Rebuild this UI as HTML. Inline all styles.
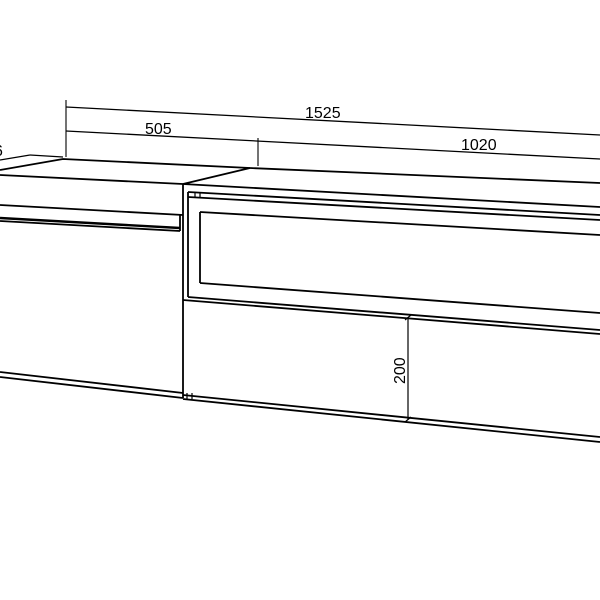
<!DOCTYPE html>
<html><head><style>body{margin:0;background:#fff}svg{display:block}</style></head>
<body>
<svg width="600" height="600" viewBox="0 0 600 600" xmlns="http://www.w3.org/2000/svg" font-family="Liberation Sans, sans-serif">
<g stroke="#000" fill="none" stroke-width="1.8">
<line x1="66" y1="100" x2="66" y2="157" stroke-width="1.1"/>
<line x1="66" y1="107" x2="600" y2="135" stroke-width="1.3"/>
<line x1="66" y1="131" x2="600" y2="159" stroke-width="1.3"/>
<line x1="258" y1="138" x2="258" y2="166" stroke-width="1.1"/>
<line x1="0" y1="160" x2="30" y2="155" stroke-width="1.2"/>
<line x1="30" y1="155" x2="63" y2="157" stroke-width="1.2"/>
<polyline points="0,170 63,159 250,168"/>
<line x1="0" y1="175" x2="183" y2="184"/>
<line x1="183" y1="184" x2="250" y2="168"/>
<line x1="0" y1="205" x2="183" y2="215"/>
<line x1="0" y1="218" x2="180" y2="228" stroke-width="2.4"/>
<line x1="0" y1="221" x2="180" y2="231"/>
<line x1="180" y1="215" x2="180" y2="231"/>
<line x1="0" y1="372" x2="183" y2="393"/>
<line x1="0" y1="377" x2="183" y2="398"/>
<line x1="250" y1="168" x2="600" y2="183"/>
<line x1="183" y1="184" x2="600" y2="207"/>
<line x1="188" y1="192" x2="600" y2="215"/>
<line x1="188" y1="197" x2="600" y2="220"/>
<line x1="200" y1="212" x2="600" y2="235"/>
<line x1="200" y1="212" x2="200" y2="283"/>
<line x1="200" y1="283" x2="600" y2="313"/>
<line x1="188" y1="297" x2="600" y2="330"/>
<line x1="183" y1="300" x2="600" y2="334"/>
<line x1="183" y1="184" x2="183" y2="398"/>
<line x1="188" y1="192" x2="188" y2="297"/>
<line x1="195" y1="192" x2="195" y2="197" stroke-width="1.2"/>
<line x1="200" y1="192" x2="200" y2="197" stroke-width="1.2"/>
<line x1="183" y1="395" x2="600" y2="437"/>
<line x1="183" y1="399" x2="600" y2="442"/>
<line x1="187" y1="393" x2="187" y2="399" stroke-width="1.2"/>
<line x1="192" y1="393" x2="192" y2="399" stroke-width="1.2"/>
<line x1="408" y1="317" x2="408" y2="420" stroke-width="1.2"/>
<line x1="405" y1="320" x2="411" y2="315" stroke-width="1.2"/>
<line x1="405" y1="422" x2="411" y2="417" stroke-width="1.2"/>
</g>
<g font-size="16" fill="#000">
<text x="305" y="118">1525</text>
<text x="145" y="134">505</text>
<text x="461" y="150">1020</text>
<text x="-6" y="156">6</text>
<text transform="translate(405,384) rotate(-90)">200</text>
</g>
</svg>
</body></html>
